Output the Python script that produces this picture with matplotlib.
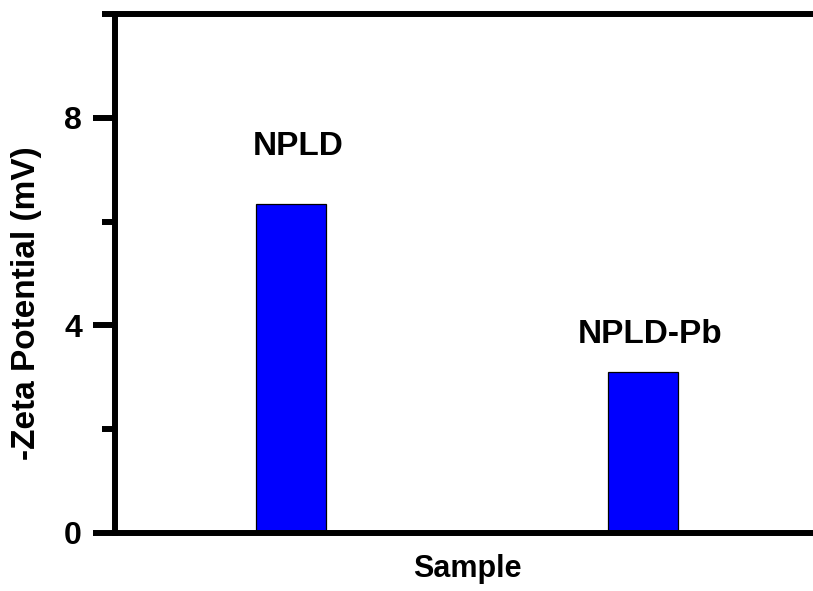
import matplotlib
matplotlib.use("Agg")
import matplotlib.pyplot as plt
import numpy as np

samples = ["NPLD", "NPLD-Pb"]
zeta = [6.33, 3.10]
label_y = [7.44, 3.83]
yticks = [0, 4, 8]

plt.rcParams['font.family'] = ['Liberation Sans', 'DejaVu Sans']
plt.rcParams['font.weight'] = 'bold'

fig = plt.figure(figsize=(8.13, 5.91), dpi=100)
ax = fig.add_axes([115/813, 1-533/591, 704/813, 519/591])

x = np.arange(1, len(samples)+1)
ax.bar(x, zeta, width=0.2, color='#0000ff', edgecolor='black', linewidth=0.9, zorder=2)

for xi, s, ly in zip(x, samples, label_y):
    ax.text(xi + 0.02, ly, s, ha='center', va='center', fontsize=24, fontweight='bold')

ax.set_xlim(0.5, 2.5)
ax.set_ylim(0, 10)

for sp in ax.spines.values():
    sp.set_linewidth(4.3)
    sp.set_zorder(3)

ax.set_yticks(yticks)
ax.set_yticks([2, 6, 10], minor=True)
ax.tick_params(axis='y', which='major', direction='out', length=15.8, width=4.3,
               labelsize=23, pad=8)
ax.tick_params(axis='y', which='minor', direction='out', length=9.4, width=4.3)
for lab in ax.get_yticklabels():
    lab.set_fontweight('bold')

ax.set_xticks([])
ax.set_xticks(np.arange(0.6, 2.5, 0.1), minor=True)
ax.tick_params(axis='x', which='minor', direction='out', length=1.5, width=1.2,
               top=True, bottom=True)

ax.set_xlabel("Sample", fontsize=22, fontweight='bold', labelpad=10)
ax.set_ylabel("-Zeta Potential (mV)", fontsize=24, fontweight='bold')
ax.yaxis.set_label_coords(-0.104, 0.443)

fig.savefig("out.png", dpi=100)
